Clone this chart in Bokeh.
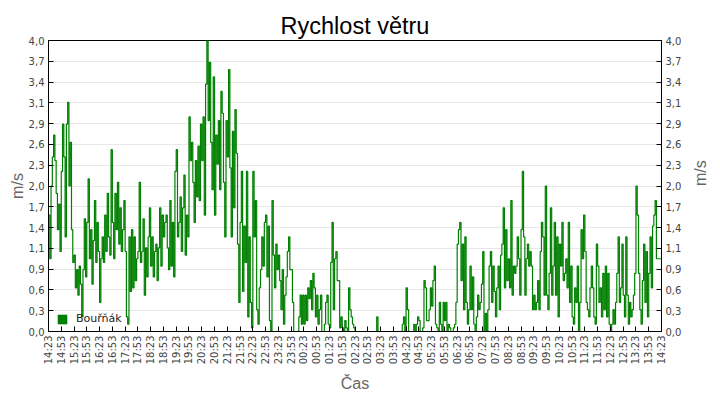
import math
from bokeh.plotting import figure
from bokeh.models import FixedTicker, LinearAxis, Range1d, Legend, LegendItem
from bokeh.embed import file_html
from bokeh.resources import INLINE

title_text = "Rychlost větru"
series_name = "Bouřňák"
x_label = "Čas"
y_label = "m/s"
start_hour, start_minute = 14, 23
step_minutes = 3  # one reading every 3 minutes, 10 per 30-minute block

# wind speed (m/s), 10 readings per half hour, starting 14:23
speed = [
    1.6, 1.0, 2.0, 2.4, 2.7, 2.35, 1.9, 1.4, 1.75, 1.1,      # 14:23
    2.2, 2.85, 2.4, 1.3, 2.85, 3.15, 2.0, 2.6, 1.4, 0.95,    # 14:53
    1.05, 0.6, 0.85, 0.5, 0.9, 0.65, 0.2, 0.85, 1.55, 0.75,  # 15:23
    1.5, 2.1, 1.0, 1.4, 0.65, 1.25, 1.8, 0.95, 1.5, 1.1,     # 15:53
    0.4, 1.0, 1.3, 0.95, 1.6, 1.1, 1.9, 1.3, 1.05, 2.5,      # 16:23
    1.5, 1.0, 1.9, 1.4, 2.05, 1.2, 1.7, 1.1, 1.4, 1.8,       # 16:53
    1.1, 0.2, 0.1, 1.3, 0.55, 1.4, 0.6, 1.3, 0.7, 1.0,       # 17:23
    1.1, 2.05, 0.95, 1.1, 1.55, 0.5, 1.15, 0.75, 1.3, 1.7,   # 17:53
    0.9, 1.3, 0.75, 1.1, 1.2, 0.7, 1.15, 1.7, 0.9, 1.6,      # 18:23
    1.3, 1.5, 1.6, 1.15, 0.85, 1.8, 0.9, 1.5, 0.75, 2.2,     # 18:53
    2.5, 1.3, 1.5, 1.85, 1.1, 1.7, 2.15, 1.05, 1.6, 1.3,     # 19:23
    2.95, 2.35, 2.6, 2.05, 1.5, 2.35, 1.85, 2.55, 1.8, 2.85, # 19:53
    2.35, 2.95, 1.6, 3.4, 4.0, 2.9, 3.7, 2.6, 1.95, 3.5,     # 20:23
    1.6, 2.7, 2.3, 2.9, 1.95, 3.3, 3.0, 2.05, 1.3, 2.9,      # 20:53
    2.4, 3.6, 2.25, 1.3, 2.75, 1.7, 3.05, 2.45, 1.2, 0.4,    # 21:23
    1.5, 2.2, 0.55, 1.45, 0.95, 2.2, 0.2, 1.3, 0.4, 0.05,    # 21:53
    2.2, 1.3, 1.8, 0.3, 0.1, 0.6, 0.85, 1.3, 0.9, 1.5,       # 22:23
    1.6, 0.75, 1.45, 0.15, 0.0, 1.8, 1.05, 0.6, 1.2, 0.85,   # 22:53
    1.05, 0.7, 0.3, 0.85, 0.1, 0.5, 0.75, 1.1, 1.3, 0.85,    # 23:23
    0.85, 0.4, 0.0, 0.0, 0.0, 0.0, 0.2, 0.5, 0.1, 0.5,       # 23:53
    0.1, 0.5, 0.15, 0.6, 0.45, 0.7, 0.3, 0.8, 0.6, 0.2,      # 00:23
    0.5, 0.1, 0.3, 0.5, 0.0, 0.0, 0.1, 0.4, 0.5, 0.1,        # 00:53
    0.05, 0.95, 1.5, 0.3, 1.0, 1.1, 0.7, 0.7, 0.05, 0.2,     # 01:23
    0.05, 0.0, 0.15, 0.05, 0.0, 0.6, 0.3, 0.2, 0.1, 0.05,    # 01:53
    0.0, 0.0, 0.0, 0.0, 0.0, 0.0, 0.0, 0.0, 0.0, 0.0,        # 02:23
    0.0, 0.0, 0.0, 0.0, 0.0, 0.0, 0.0, 0.2, 0.0, 0.0,        # 02:53
    0.0, 0.0, 0.0, 0.0, 0.0, 0.0, 0.0, 0.0, 0.0, 0.0,        # 03:23
    0.0, 0.0, 0.0, 0.0, 0.0, 0.0, 0.0, 0.1, 0.2, 0.0,        # 03:53
    0.6, 0.3, 0.0, 0.0, 0.0, 0.0, 0.1, 0.0, 0.1, 0.2,        # 04:23
    0.15, 0.0, 0.0, 0.05, 0.7, 0.6, 0.15, 0.15, 0.3, 0.6,    # 04:53
    0.35, 0.7, 0.9, 0.1, 0.05, 0.0, 0.4, 0.1, 0.0, 0.4,      # 05:23
    0.15, 0.4, 0.0, 0.1, 0.05, 0.0, 0.0, 0.05, 0.1, 0.4,     # 05:53
    1.2, 1.4, 1.5, 0.7, 1.2, 0.3, 1.3, 0.4, 0.1, 0.3,        # 06:23
    0.9, 0.3, 0.75, 0.1, 0.0, 0.2, 0.5, 0.3, 0.4, 0.65,      # 06:53
    1.1, 0.0, 0.25, 0.0, 0.3, 0.9, 1.1, 0.4, 0.9, 0.55,      # 07:23
    0.2, 0.6, 0.9, 0.3, 1.05, 1.2, 1.7, 0.6, 1.4, 0.7,       # 07:53
    1.0, 0.6, 1.8, 0.5, 0.9, 0.8, 0.9, 1.3, 1.0, 0.5,        # 08:23
    1.4, 2.2, 1.3, 0.5, 1.0, 1.2, 0.9, 1.1, 0.9, 0.3,        # 08:53
    0.5, 0.3, 0.4, 0.7, 0.3, 1.1, 1.5, 1.3, 0.5, 2.0,        # 09:23
    0.5, 0.3, 0.8, 1.7, 0.5, 0.9, 1.5, 0.5, 1.3, 0.2,        # 09:53
    1.2, 0.9, 1.5, 0.7, 0.8, 1.0, 0.6, 1.5, 0.4, 0.9,        # 10:23
    0.2, 0.1, 0.6, 0.4, 0.9, 0.0, 0.4, 1.4, 1.0, 1.6,        # 10:53
    1.1, 0.4, 0.3, 0.2, 0.6, 0.9, 0.6, 0.2, 0.1, 1.2,        # 11:23
    0.9, 0.4, 0.6, 0.2, 0.8, 0.3, 0.9, 0.2, 0.8, 0.1,        # 11:53
    0.0, 0.1, 0.3, 0.1, 0.4, 0.8, 1.3, 0.4, 0.6, 1.2,        # 12:23
    0.5, 0.2, 1.3, 0.5, 0.1, 0.4, 0.2, 0.3, 0.5, 0.8,        # 12:53
    2.0, 1.6, 0.8, 0.3, 0.1, 0.7, 1.2, 0.4, 1.1, 0.2,        # 13:23
    0.8, 1.3, 0.6, 1.45, 1.6, 1.8, 1.0, 1.0, 1.0, 1.0,       # 13:53
    1.0,                                                     # 14:23
]
minutes = [i * step_minutes for i in range(len(speed))]

y_ticks = [i * 4 / 14 for i in range(15)]
y_tick_labels = [f"{v:.1f}".replace(".", ",") for v in y_ticks]

x_ticks = list(range(0, 24 * 60 + 1, 30))
x_tick_labels = []
for t in x_ticks:
    tot = start_hour * 60 + start_minute + t
    x_tick_labels.append(f"{(tot // 60) % 24:02d}:{tot % 60:02d}")

GREEN = "#008000"
TICK_FONT = "DejaVu Sans"
LABEL_FONT = "Liberation Sans"

p = figure(width=720, height=400, output_backend="svg", toolbar_location=None,
           x_range=Range1d(0, 24 * 60), y_range=Range1d(0, 4),
           min_border_left=48, min_border_right=49, min_border_top=40, min_border_bottom=69)
p.background_fill_color = "white"
p.border_fill_color = "white"
p.outline_line_color = "black"
p.outline_line_width = 1

p.title.text = title_text
p.title.align = "center"
p.title.text_font = LABEL_FONT
p.title.text_font_style = "normal"
p.title.text_font_size = "23.5px"
p.title.text_color = "black"
p.title.standoff = 4

p.step(x=minutes, y=speed, mode="after", line_color=GREEN, line_width=1.2)

# legend proxy: a zero-size quad whose only purpose is to give the legend a filled square
sq = p.quad(left=[0], right=[0], top=[0], bottom=[0], fill_color=GREEN, line_color=None)
legend = Legend(items=[LegendItem(label=series_name, renderers=[sq])],
                location=(2, 0), padding=6, margin=0, glyph_width=12, glyph_height=12,
                label_standoff=8, label_text_font=TICK_FONT, label_text_font_size="11px",
                label_text_color="#222222", background_fill_alpha=0, border_line_alpha=0)
p.add_layout(legend)

def style_axis(ax):
    ax.axis_line_color = "black"
    ax.major_tick_line_color = "black"
    ax.major_tick_in = 5
    ax.major_tick_out = 0
    ax.minor_tick_line_color = None
    ax.major_label_text_font = TICK_FONT
    ax.major_label_text_font_size = "10px"
    ax.major_label_text_color = "#444444"
    ax.major_label_standoff = 4
    ax.axis_label_text_font = LABEL_FONT
    ax.axis_label_text_font_size = "16px"
    ax.axis_label_text_font_style = "normal"
    ax.axis_label_text_color = "#666666"

xa = p.xaxis[0]
xa.ticker = FixedTicker(ticks=x_ticks)
xa.major_label_overrides = {t: lab for t, lab in zip(x_ticks, x_tick_labels)}
xa.major_label_orientation = math.pi / 2
xa.axis_label = x_label
style_axis(xa)
xa.axis_label_standoff = 8

ya = p.yaxis[0]
ya.ticker = FixedTicker(ticks=y_ticks)
ya.major_label_overrides = {t: lab for t, lab in zip(y_ticks, y_tick_labels)}
ya.axis_label = y_label
style_axis(ya)
ya.axis_label_standoff = 0

ra = LinearAxis(ticker=FixedTicker(ticks=y_ticks),
                major_label_overrides={t: lab for t, lab in zip(y_ticks, y_tick_labels)},
                axis_label=y_label)
style_axis(ra)
ra.axis_label_standoff = 16
ra.axis_label_orientation = math.pi / 2
p.add_layout(ra, "right")

p.xgrid.visible = False
p.ygrid.grid_line_color = "#e8e8e8"
p.ygrid.grid_line_width = 1

open("out.html", "w").write(file_html(p, INLINE))
